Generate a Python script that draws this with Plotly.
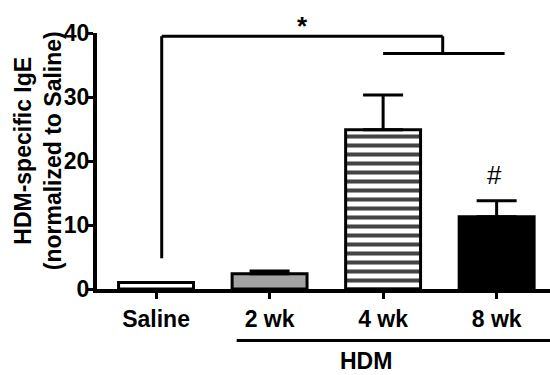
import plotly.graph_objects as go

# ---- data ----
categories = ["Saline", "2 wk", "4 wk", "8 wk"]
means = [1.0, 2.4, 24.9, 11.3]
sem_up = [0.0, 0.4, 5.4, 2.5]
fill_colors = ["white", "#a3a3a3", "white", "black"]
pattern_shapes = ["", "", "-", ""]
y_tick_values = [0, 10, 20, 30, 40]
y_title = "HDM-specific IgE<br>(normalized to Saline)"
group_label = "HDM"
sig_star = "*"
sig_hash = "#"

x_pos = list(range(len(categories)))
x_range = [-0.52, 3.47]
y_range = [0, 40]

FONT = "Liberation Sans, Arial, sans-serif"
FS = 23

fig = go.Figure()
fig.add_trace(go.Bar(
    x=x_pos, y=means, width=0.66,
    marker=dict(
        color=fill_colors,
        line=dict(color="black", width=3),
        pattern=dict(shape=pattern_shapes, fgcolor="black", fgopacity=1,
                     size=9, solidity=0.45),
    ),
    error_y=dict(type="data", array=sem_up, arrayminus=[0] * len(means), symmetric=False,
                 color="black", thickness=3, width=20),
    showlegend=False,
))

# significance brackets
line_style = dict(color="black", width=3)
fig.add_shape(type="line", xref="x", yref="y", x0=0.05, x1=0.05, y0=4.8, y1=39.5, line=line_style)
fig.add_shape(type="line", xref="x", yref="y", x0=0.05, x1=2.525, y0=39.5, y1=39.5, line=line_style)
fig.add_shape(type="line", xref="x", yref="y", x0=2.525, x1=2.525, y0=39.5, y1=36.8, line=line_style)
fig.add_shape(type="line", xref="x", yref="y", x0=2.0, x1=3.07, y0=36.8, y1=36.8, line=line_style)

# HDM grouping line (below axis)
def to_paper(xv):
    return (xv - x_range[0]) / (x_range[1] - x_range[0])

fig.add_shape(type="line", xref="paper", yref="paper", x0=to_paper(0.71), x1=1.0,
              y0=-0.201, y1=-0.201, line=dict(color="black", width=3))

fig.add_annotation(x=1.85, xref="x", y=-0.283, yref="paper", yanchor="middle",
                   text=group_label, showarrow=False,
                   font=dict(family=FONT, size=FS, color="black", weight="bold"))
fig.add_annotation(x=1.29, xref="x", y=1.0, yref="paper", yshift=7, yanchor="middle",
                   text=sig_star, showarrow=False,
                   font=dict(family=FONT, size=26, color="black", weight="bold"))
fig.add_annotation(x=2.98, xref="x", y=17.8, yref="y", text=sig_hash, showarrow=False,
                   font=dict(family=FONT, size=26, color="black"))

# y title as annotation
fig.add_annotation(x=0, xref="paper", xshift=-59, y=0.538, yref="paper", text=y_title,
                   textangle=-90, showarrow=False, xanchor="center", yanchor="middle",
                   font=dict(family=FONT, size=FS, color="black", weight="bold"))

fig.update_layout(
    width=550, height=375,
    margin=dict(l=97, r=0, t=33, b=86),
    plot_bgcolor="white", paper_bgcolor="white",
    font=dict(family=FONT, color="black"),
    xaxis=dict(range=x_range, tickvals=x_pos, ticktext=categories,
               showline=True, linecolor="black", linewidth=4,
               ticks="outside", ticklen=6, tickwidth=3, tickcolor="black",
               showgrid=False, zeroline=False,
               tickfont=dict(family=FONT, size=FS, color="black", weight="bold")),
    yaxis=dict(range=y_range, tickvals=y_tick_values,
               showline=True, linecolor="black", linewidth=4,
               ticks="outside", ticklen=5, tickwidth=3, tickcolor="black",
               ticklabelstandoff=-6,
               showgrid=False, zeroline=False,
               tickfont=dict(family=FONT, size=FS, color="black", weight="bold")),
)

fig.write_html("out.html", config={"displayModeBar": False},
               post_script="document.body.style.margin='0';")
